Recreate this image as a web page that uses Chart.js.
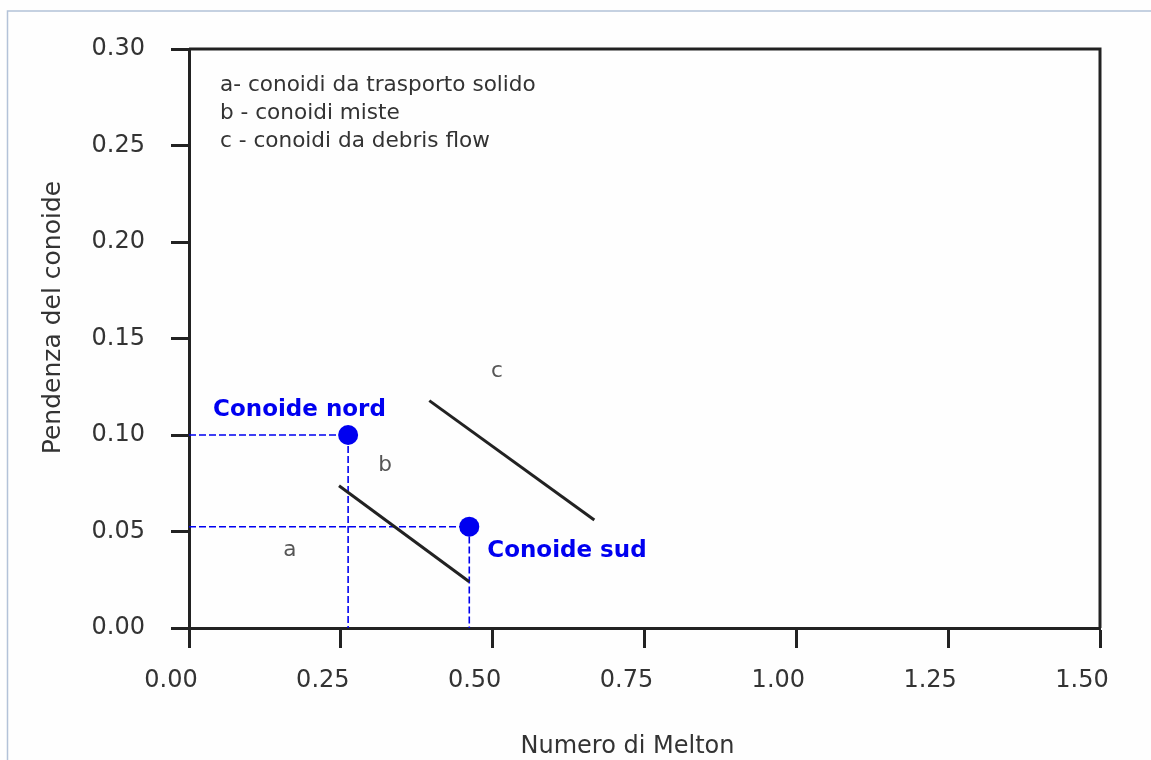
<!DOCTYPE html>
<html>
<head>
<meta charset="utf-8">
<script src="https://cdn.jsdelivr.net/npm/chart.js@4.4.1/dist/chart.umd.min.js"></script>
<style>
  html, body { margin: 0; padding: 0; background: #fefefe; }
  #grafico { display: block; }
</style>
</head>
<body>
<canvas id="grafico" width="1151" height="760"></canvas>
<script>
// ---- dati ----
const conoidiNomi = ["Conoide nord", "Conoide sud"];
const conoidiMelton = [0.262, 0.4615];
const conoidiPendenza = [0.100, 0.0525];

// limite tra conoidi da trasporto solido (a) e miste (b)
const limiteAB_melton = [0.247, 0.4615];
const limiteAB_pendenza = [0.0737, 0.024];

// limite tra conoidi miste (b) e da debris flow (c)
const limiteBC_melton = [0.3957, 0.6674];
const limiteBC_pendenza = [0.1178, 0.056];

// lettere delle classi
const classiLettere = ["a", "b", "c"];
const classiMelton = [0.166, 0.323, 0.507];
const classiPendenza = [0.040, 0.084, 0.133];

const legendaTesti = [
    "a- conoidi da trasporto solido",
    "b - conoidi miste",
    "c - conoidi da debris flow"
];

const titoloX = "Numero di Melton";
const titoloY = "Pendenza del conoide";

const xMin = 0, xMax = 1.5, xStep = 0.25;
const yMin = 0, yMax = 0.30, yStep = 0.05;

// ---- stili ----
const BLU = "#0000f0";
const NERO = "#222222";
const TESTO = "#333333";
const FONT = "'DejaVu Sans', Verdana, sans-serif";

function punti(xs, ys) {
    return xs.map((x, i) => ({ x: x, y: ys[i] }));
}

// linee tratteggiate di riferimento: dall'asse y al punto e giù fino all'asse x
function guida(i) {
    return [
        { x: xMin, y: conoidiPendenza[i] },
        { x: conoidiMelton[i], y: conoidiPendenza[i] },
        { x: conoidiMelton[i], y: yMin }
    ];
}

// cornice della pagina, riquadro del grafico e testi
const pluginAnnotazioni = {
    id: "annotazioni",
    beforeDraw(chart) {
        const c = chart.ctx;
        c.save();
        c.fillStyle = "#fefefe";
        c.fillRect(0, 0, chart.width, chart.height);
        c.strokeStyle = "#b3c2d8";
        c.lineWidth = 1.5;
        c.beginPath();
        c.moveTo(chart.width, 11);
        c.lineTo(7.5, 11);
        c.lineTo(7.5, chart.height);
        c.stroke();
        c.restore();
    },
    afterDatasetsDraw(chart) {
        const c = chart.ctx;
        const area = chart.chartArea;
        const sx = chart.scales.x;
        const sy = chart.scales.y;

        c.save();
        // lati superiore e destro del riquadro
        c.strokeStyle = NERO;
        c.lineWidth = 3;
        c.beginPath();
        c.moveTo(area.left, area.top);
        c.lineTo(area.right, area.top);
        c.lineTo(area.right, area.bottom);
        c.stroke();

        // legenda testuale
        c.fillStyle = TESTO;
        c.font = "21.6px " + FONT;
        c.textAlign = "left";
        c.textBaseline = "alphabetic";
        legendaTesti.forEach((t, i) => {
            c.fillText(t, area.left + 31, area.top + 42 + i * 28);
        });

        // lettere delle classi
        c.fillStyle = "#555555";
        c.textAlign = "center";
        c.textBaseline = "middle";
        classiLettere.forEach((l, i) => {
            c.fillText(l, sx.getPixelForValue(classiMelton[i]), sy.getPixelForValue(classiPendenza[i]));
        });

        // nomi dei conoidi
        c.fillStyle = BLU;
        c.font = "bold 23px " + FONT;
        c.textAlign = "left";
        c.textBaseline = "alphabetic";
        const scosta = [[-135, -19], [18, 30]];
        conoidiNomi.forEach((n, i) => {
            const px = sx.getPixelForValue(conoidiMelton[i]);
            const py = sy.getPixelForValue(conoidiPendenza[i]);
            c.fillText(n, px + scosta[i][0], py + scosta[i][1]);
        });

        // titoli degli assi
        c.fillStyle = TESTO;
        c.font = "24px " + FONT;
        c.textAlign = "center";
        c.fillText(titoloX, (area.left + area.right) / 2 - 17, 753);

        c.translate(60, (area.top + area.bottom) / 2 - 21);
        c.rotate(-Math.PI / 2);
        c.font = "25px " + FONT;
        c.fillText(titoloY, 0, 0);
        c.restore();
    }
};

const ctx = document.getElementById("grafico").getContext("2d");

new Chart(ctx, {
    type: "scatter",
    data: {
        datasets: [
            {
                label: "Conoidi",
                data: punti(conoidiMelton, conoidiPendenza),
                pointRadius: 10,
                pointHoverRadius: 10,
                pointBackgroundColor: BLU,
                pointBorderWidth: 0,
                order: 0
            },
            {
                label: "Limite a-b",
                data: punti(limiteAB_melton, limiteAB_pendenza),
                showLine: true,
                borderColor: NERO,
                borderWidth: 3,
                pointRadius: 0,
                order: 1
            },
            {
                label: "Limite b-c",
                data: punti(limiteBC_melton, limiteBC_pendenza),
                showLine: true,
                borderColor: NERO,
                borderWidth: 3,
                pointRadius: 0,
                order: 1
            },
            {
                label: "Guida nord",
                data: guida(0),
                showLine: true,
                borderColor: BLU,
                borderWidth: 1.6,
                borderDash: [7, 3],
                pointRadius: 0,
                order: 2
            },
            {
                label: "Guida sud",
                data: guida(1),
                showLine: true,
                borderColor: BLU,
                borderWidth: 1.6,
                borderDash: [7, 3],
                pointRadius: 0,
                order: 2
            }
        ]
    },
    options: {
        responsive: false,
        animation: false,
        layout: { padding: { left: 0, top: 49, right: 51, bottom: 0 } },
        plugins: {
            legend: { display: false },
            tooltip: { enabled: false }
        },
        scales: {
            x: {
                type: "linear",
                min: xMin,
                max: xMax,
                afterFit(scale) { scale.height = 132; },
                ticks: {
                    stepSize: xStep,
                    color: TESTO,
                    font: { family: FONT, size: 24 },
                    padding: 18,
                    labelOffset: -18,
                    maxRotation: 0,
                    callback: v => v.toFixed(2)
                },
                grid: {
                    drawOnChartArea: false,
                    drawTicks: true,
                    tickLength: 20,
                    tickWidth: 3,
                    tickColor: NERO
                },
                border: { display: true, color: NERO, width: 3 }
            },
            y: {
                type: "linear",
                min: yMin,
                max: yMax,
                afterFit(scale) { scale.width = 189; },
                ticks: {
                    stepSize: yStep,
                    color: TESTO,
                    font: { family: FONT, size: 24 },
                    padding: 26,
                    callback: v => v.toFixed(2)
                },
                grid: {
                    drawOnChartArea: false,
                    drawTicks: true,
                    tickLength: 18,
                    tickWidth: 3,
                    tickColor: NERO
                },
                border: { display: true, color: NERO, width: 3 }
            }
        }
    },
    plugins: [pluginAnnotazioni]
});
</script>
</body>
</html>
